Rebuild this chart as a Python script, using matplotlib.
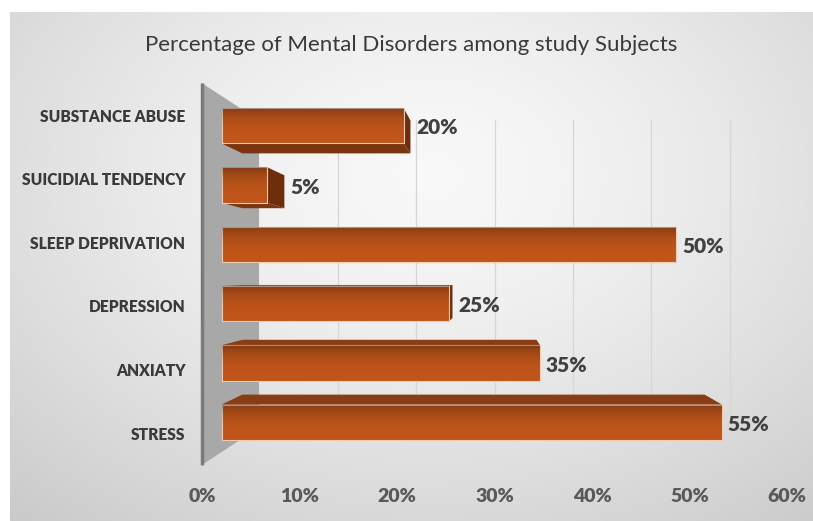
import numpy as np
import matplotlib.pyplot as plt
from matplotlib.patches import Polygon

plt.rcParams['font.family'] = ['Lato', 'DejaVu Sans']

title = 'Percentage of Mental Disorders among study Subjects'
categories = ['STRESS', 'ANXIATY', 'DEPRESSION', 'SLEEP DEPRIVATION',
              'SUICIDIAL TENDENCY', 'SUBSTANCE ABUSE']
values = [55, 35, 25, 50, 5, 20]
ticks = [0, 10, 20, 30, 40, 50, 60]
tick_labels = ['0%', '10%', '20%', '30%', '40%', '50%', '60%']

W, H = 813, 521
fig = plt.figure(figsize=(W / 100, H / 100), dpi=100)
fig.patch.set_facecolor('white')

# chart area background (soft radial gradient)
bg = fig.add_axes([10 / W, 0, 1 - 10 / W, (H - 12) / H])
u, v = np.meshgrid(np.linspace(0, 1, 400), np.linspace(0, 1, 260))
r = np.sqrt(((u - 0.52) / 0.75) ** 2 + ((v - 0.32) / 0.85) ** 2)
g = np.clip(0.975 - 0.17 * r ** 1.4, 0, 1)
bg.imshow(np.dstack([g, g, g]), aspect='auto', extent=[0, 1, 1, 0])
bg.axis('off')

# front plane of the 3d box
ax = fig.add_axes([202 / W, 1 - 464.8 / H, 585 / W, 381.6 / H])
ax.set_xlim(0, 60)
ax.set_ylim(-0.5, 5.5)
ax.patch.set_alpha(0)
for sp in ax.spines.values():
    sp.set_visible(False)
ax.set_xticks(ticks, tick_labels)
ax.set_yticks(range(len(categories)), categories)
ax.tick_params(axis='x', length=0, pad=17, labelsize=14, labelcolor='#595959')
ax.tick_params(axis='y', length=0, pad=12, labelsize=11.2, labelcolor='#3a3a3a')
for lab in ax.get_xticklabels() + ax.get_yticklabels():
    lab.set_fontweight('heavy')

# simple perspective: planes further back shrink toward the centre
vx, vy = 30, 2.5
S_WALL = 0.805
S_FRONT = 0.933
S_BACK = 0.862
bh = 0.6


def proj(x, y, s):
    return (vx + (x - vx) * s, vy + (y - vy) * s)


# side wall
wall = Polygon([proj(0, -0.5, 1), proj(0, 5.5, 1), proj(0, 5.5, S_WALL), proj(0, -0.5, S_WALL)],
               closed=True, fc='#a8a8a8', ec='none', clip_on=False, zorder=1)
ax.add_patch(wall)
ax.plot([0, 0], [-0.5, 5.5], color='#7a7a7a', lw=2.5, clip_on=False, zorder=2,
        solid_capstyle='butt')

# gridlines on back wall
for t in ticks[1:]:
    p0 = proj(t, -0.5, S_WALL)
    p1 = proj(t, 5.5, S_WALL)
    ax.plot([p0[0], p1[0]], [p0[1], p1[1]], color='#d6d6d6', lw=0.9, zorder=0.5, clip_on=False)

# dark overlay, strongest at the top edge of each front face
tt = np.linspace(0, 1, 60)
shade = np.zeros((60, 1, 4))
shade[:, 0, 3] = 0.32 * tt ** 3

# bars
for i, val in enumerate(values):
    y0, y1 = i - bh / 2, i + bh / 2
    F = [proj(0, y0, S_FRONT), proj(val, y0, S_FRONT), proj(val, y1, S_FRONT), proj(0, y1, S_FRONT)]
    B = [proj(0, y0, S_BACK), proj(val, y0, S_BACK), proj(val, y1, S_BACK), proj(0, y1, S_BACK)]
    if y0 > vy:
        ax.add_patch(Polygon([F[0], F[1], B[1], B[0]], fc='#7b3510', ec='none', zorder=3, clip_on=False))
    if y1 < vy:
        ax.add_patch(Polygon([F[3], F[2], B[2], B[3]], fc='#8a3c12', ec='none', zorder=3, clip_on=False))
    if val < vx:
        ax.add_patch(Polygon([F[1], F[2], B[2], B[1]], fc='#6e2e0c', ec='none', zorder=3.5, clip_on=False))
    face = Polygon(F, fc='#bf551a', ec='#f0cbb2', lw=0.8, zorder=4, clip_on=False)
    ax.add_patch(face)
    im = ax.imshow(shade, aspect='auto', extent=[F[0][0], F[1][0], F[0][1], F[3][1]],
                   origin='lower', zorder=4.1, interpolation='bilinear')
    im.set_clip_path(face)

    xend = max(F[1][0], B[1][0])
    ax.annotate(f'{val}%', (xend, proj(val, i, S_FRONT)[1]), xytext=(4, -1.5),
                textcoords='offset points', ha='left', va='center', fontsize=15,
                fontweight='heavy', color='#404040', zorder=5, annotation_clip=False)

ax.set_xlim(0, 60)
ax.set_ylim(-0.5, 5.5)

fig.text(411 / W, 1 - 45 / H, title, ha='center', va='center', fontsize=16, color='#3a3a3a')

fig.savefig('out.png', dpi=100)
